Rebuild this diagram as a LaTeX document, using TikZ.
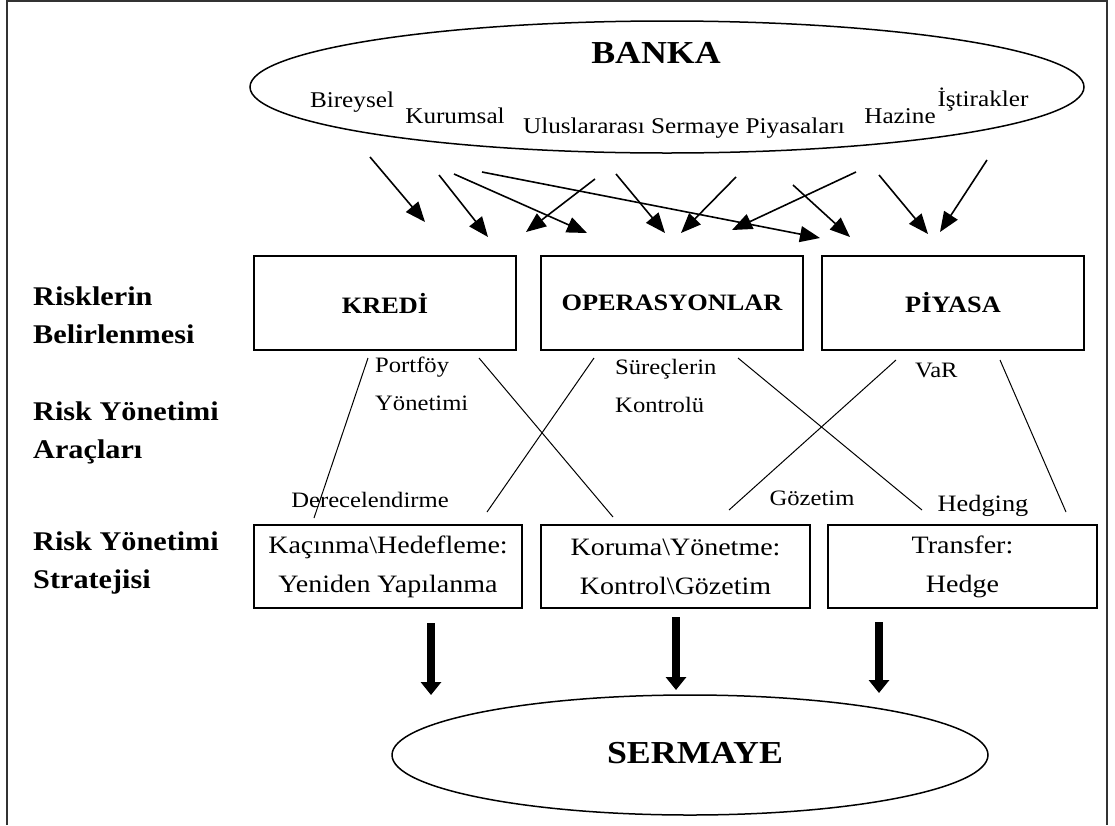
\documentclass[tikz,border=0pt]{standalone}
\usepackage{fontspec}
\setmainfont{Liberation Serif}[FakeStretch=1.12]
\usetikzlibrary{arrows.meta,shapes.geometric}
\begin{document}
\begin{tikzpicture}[x=1pt,y=-1pt,
  frame/.style={draw=black!80,line width=2},
  oval/.style={draw,ellipse,line width=1.5,inner sep=0},
  box/.style={draw,line width=1.5,inner sep=0,align=center},
  title/.style={font=\fontsize{32}{36}\selectfont\bfseries,inner sep=0},
  unit/.style={font=\fontsize{22.5}{26}\selectfont,inner sep=0},
  side/.style={font=\fontsize{27}{38}\selectfont\bfseries,inner sep=0,align=left,anchor=west},
  riskbox/.style={box,minimum width=262,minimum height=94,font=\fontsize{23.5}{26}\selectfont\bfseries},
  stratbox/.style={box,minimum width=268,minimum height=83,font=\fontsize{25}{39}\selectfont},
  tool/.style={font=\fontsize{22}{38}\selectfont,inner sep=0,align=left},
  thin/.style={line width=1},
  arr/.style={line width=1.6,-{Triangle[length=20,width=16]}},
  heavy/.style={line width=7.5,-{Triangle[length=13,width=20]}}
]
\useasboundingbox (0,0) rectangle (1115,825);
\draw[frame] (7,825) -- (7,1) -- (1107,1) -- (1107,825);

% top ellipse
\node[oval,minimum width=834,minimum height=132] (banka) at (667,87) {};
\node[title] (bankat) at (656,53) {BANKA};
\node[unit] (bir) at (352,102) {Bireysel};
\node[unit] (kur) at (455,116) {Kurumsal};
\node[unit] (ulu) at (684,128) {Uluslararası Sermaye Piyasaları};
\node[unit] (haz) at (900,116) {Hazine};
\node[unit] (ist) at (983,100) {İştirakler};

% arrows
\foreach \n/\ax/\ay/\bx/\by in {
  1/370/157/425/222, 2/439/175/488/237, 3/454/174/587/233,
  4/482/172/820/238, 5/595/179/526/232, 6/616/174/665/233,
  7/736/177/681/233, 8/856/172/732/230, 9/793/185/850/237,
  10/879/175/928/234, 11/987/160/940/232}{
  \coordinate (s\n) at (\ax,\ay);
  \coordinate (e\n) at (\bx,\by);
  \draw[arr] (s\n) -- (e\n);
}

% risk boxes
\node[riskbox] (kredi) at (385,303) {KREDİ};
\node[riskbox] (oper) at (672,303) {OPERASYONLAR};
\node[riskbox] (piy) at (953,303) {PİYASA};

% side labels
\node[side] (l1) at (33,315) {Risklerin\\Belirlenmesi};
\node[side] (l2) at (33,433) {Risk Yönetimi\\Araçları};
\node[side] (l3) at (33,563) {Risk Yönetimi\\Stratejisi};

% tools
\node[tool,anchor=west] (port) at (375,384) {Portföy\\Yönetimi};
\node[tool,anchor=west] (surec) at (615,386) {Süreçlerin\\Kontrolü};
\node[tool,anchor=west] (var) at (915,370) {VaR};
\node[tool] (dere) at (370,500) {Derecelendirme};
\node[tool] (goz) at (812,498) {Gözetim};
\node[tool,font=\fontsize{23.5}{28}\selectfont] (hedg) at (983,506) {Hedging};

\foreach \n/\ax/\ay/\bx/\by in {
  a/368/358/314/518, b/479/358/613/517, c/594/358/487/512,
  d/738/358/922/510, e/896/360/729/510, f/1000/360/1066/512}{
  \coordinate (t\n) at (\ax,\ay);
  \coordinate (u\n) at (\bx,\by);
  \draw[thin] (t\n) -- (u\n);
}

% strategy boxes
\node[stratbox] (kac) at (388,566.5) {Kaçınma\textbackslash Hedefleme:\\Yeniden Yapılanma};
\node[stratbox,minimum width=269] (kor) at (675.5,566.5) {Koruma\textbackslash Yönetme:\\Kontrol\textbackslash Gözetim};
\node[stratbox,minimum width=269] (tra) at (962.5,566.5) {Transfer:\\Hedge};

% bottom ellipse
\node[oval,minimum width=596,minimum height=120] (serm) at (690,755) {};
\node[title] (sermt) at (695,753) {SERMAYE};

\coordinate (h1s) at (431,623); \coordinate (h1e) at (431,695);
\coordinate (h2s) at (676,617); \coordinate (h2e) at (676,690);
\coordinate (h3s) at (879,622); \coordinate (h3e) at (879,693);
\draw[heavy] (h1s) -- (h1e);
\draw[heavy] (h2s) -- (h2e);
\draw[heavy] (h3s) -- (h3e);
\end{tikzpicture}
\end{document}
